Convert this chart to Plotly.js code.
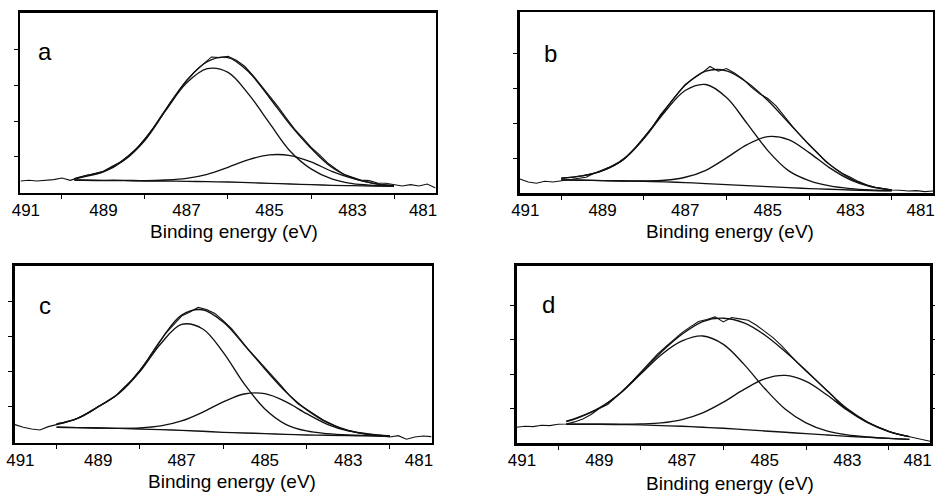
<!DOCTYPE html>
<html>
<head>
<meta charset="utf-8">
<script src="https://cdn.plot.ly/plotly-3.0.1.min.js"></script>
<style>
  html, body { margin: 0; padding: 0; background: #fff; }
  #chart { width: 935px; height: 497px; }
</style>
</head>
<body>
<div id="chart"></div>
<script>
// ---------------- data (binding energy in eV, intensity in arbitrary units) ----------------
const energy = [491.0, 490.8, 490.6, 490.4, 490.2, 490.0, 489.8, 489.6, 489.4, 489.2,
  489.0, 488.8, 488.6, 488.4, 488.2, 488.0, 487.8, 487.6, 487.4, 487.2,
  487.0, 486.8, 486.6, 486.4, 486.2, 486.0, 485.8, 485.6, 485.4, 485.2,
  485.0, 484.8, 484.6, 484.4, 484.2, 484.0, 483.8, 483.6, 483.4, 483.2,
  483.0, 482.8, 482.6, 482.4, 482.2, 482.0, 481.8, 481.6, 481.4, 481.2, 481.0];

const rawA = [0.327, 0.346, 0.327, 0.336, 0.364, 0.411, 0.346, 0.421, 0.486, 0.533,
  0.598, 0.729, 0.850, 1.028, 1.224, 1.514, 1.804, 2.131, 2.505, 2.822,
  3.131, 3.383, 3.589, 3.794, 3.776, 3.813, 3.701, 3.533, 3.280, 3.000,
  2.710, 2.411, 2.093, 1.785, 1.533, 1.271, 1.065, 0.832, 0.664, 0.505,
  0.430, 0.355, 0.336, 0.271, 0.262, 0.215, 0.187, 0.224, 0.187, 0.243, 0.131];
const rawB = [0.410, 0.324, 0.286, 0.343, 0.324, 0.362, 0.381, 0.419, 0.457, 0.571,
  0.667, 0.762, 0.895, 1.067, 1.314, 1.600, 1.886, 2.238, 2.533, 2.829,
  3.105, 3.276, 3.429, 3.619, 3.486, 3.562, 3.429, 3.257, 3.029, 2.838,
  2.705, 2.495, 2.190, 1.905, 1.638, 1.381, 1.162, 0.905, 0.733, 0.571,
  0.457, 0.333, 0.238, 0.171, 0.133, 0.095, 0.086, 0.067, 0.076, 0.048, 0.067];
const rawC = [0.475, 0.399, 0.351, 0.323, 0.418, 0.465, 0.532, 0.608, 0.703, 0.826,
  0.988, 1.121, 1.273, 1.519, 1.747, 2.032, 2.346, 2.697, 3.058, 3.314,
  3.571, 3.685, 3.818, 3.761, 3.647, 3.438, 3.210, 2.925, 2.621, 2.365,
  2.108, 1.842, 1.576, 1.292, 1.064, 0.912, 0.760, 0.608, 0.494, 0.380,
  0.304, 0.247, 0.199, 0.171, 0.152, 0.123, 0.161, 0.057, 0.123, 0.152, 0.133];
const rawD = [0.465, 0.494, 0.484, 0.523, 0.513, 0.552, 0.561, 0.620, 0.707, 0.833,
  1.007, 1.123, 1.336, 1.549, 1.801, 2.062, 2.304, 2.575, 2.788, 3.001,
  3.204, 3.369, 3.524, 3.582, 3.659, 3.514, 3.640, 3.601, 3.563, 3.417,
  3.243, 3.059, 2.836, 2.575, 2.323, 2.091, 1.868, 1.646, 1.433, 1.162,
  0.968, 0.803, 0.658, 0.542, 0.436, 0.348, 0.271, 0.213, 0.155, 0.106, 0.058];

// fitted curves: envelope, high-BE component, low-BE component, background
const fitEnergyA = [489.7, 489.5, 489.0, 488.5, 488.0, 487.5, 487.0, 486.5, 486.0,
  485.5, 485.0, 484.5, 484.0, 483.5, 483.0, 482.5, 482.0];
const envA   = [0.393, 0.458, 0.598, 0.935, 1.495, 2.327, 3.131, 3.664, 3.776, 3.374, 2.654, 1.897, 1.243, 0.710, 0.411, 0.262, 0.196];
const peak1A = [0.383, 0.439, 0.579, 0.907, 1.467, 2.299, 3.065, 3.467, 3.364, 2.748, 1.944, 1.159, 0.664, 0.383, 0.252, 0.206, 0.187];
const peak2A = [0.355, 0.355, 0.346, 0.346, 0.336, 0.355, 0.402, 0.514, 0.710, 0.925, 1.056, 1.037, 0.860, 0.598, 0.402, 0.262, 0.196];
const bgA    = [0.346, 0.346, 0.336, 0.336, 0.327, 0.327, 0.318, 0.308, 0.299, 0.280, 0.262, 0.243, 0.224, 0.206, 0.196, 0.187, 0.178];

const fitEnergyB = [490.0, 489.5, 489.0, 488.5, 488.0, 487.5, 487.0, 486.5, 486.0,
  485.5, 485.0, 484.5, 484.0, 483.5, 483.0, 482.5, 482.0];
const envB   = [0.429, 0.495, 0.648, 0.962, 1.571, 2.362, 3.086, 3.486, 3.495, 3.162, 2.648, 2.019, 1.390, 0.819, 0.419, 0.200, 0.095];
const peak1B = [0.429, 0.495, 0.648, 0.962, 1.562, 2.314, 2.933, 3.105, 2.733, 1.990, 1.219, 0.648, 0.362, 0.210, 0.133, 0.095, 0.076];
const peak2B = [0.381, 0.371, 0.362, 0.352, 0.352, 0.371, 0.457, 0.657, 1.010, 1.390, 1.619, 1.533, 1.162, 0.724, 0.381, 0.181, 0.095];
const bgB    = [0.381, 0.371, 0.362, 0.352, 0.343, 0.324, 0.305, 0.276, 0.248, 0.219, 0.190, 0.162, 0.133, 0.114, 0.095, 0.076, 0.067];

const fitEnergyC = [490.0, 489.5, 489.0, 488.5, 488.0, 487.5, 487.0, 486.5, 486.0,
  485.5, 485.0, 484.5, 484.0, 483.5, 483.0, 482.5, 482.0];
const envC   = [0.494, 0.655, 0.988, 1.377, 2.013, 2.887, 3.599, 3.751, 3.400, 2.754, 2.061, 1.415, 0.902, 0.532, 0.313, 0.209, 0.152];
const peak1C = [0.494, 0.655, 0.988, 1.368, 1.985, 2.783, 3.333, 3.210, 2.536, 1.643, 0.921, 0.484, 0.294, 0.218, 0.180, 0.161, 0.142];
const peak2C = [0.399, 0.389, 0.380, 0.370, 0.380, 0.437, 0.579, 0.826, 1.121, 1.349, 1.358, 1.130, 0.788, 0.484, 0.294, 0.199, 0.152];
const bgC    = [0.399, 0.389, 0.380, 0.370, 0.351, 0.332, 0.313, 0.285, 0.256, 0.237, 0.218, 0.199, 0.180, 0.171, 0.162, 0.152, 0.142];

const fitEnergyD = [489.8, 489.5, 489.0, 488.5, 488.0, 487.5, 487.0, 486.5, 486.0,
  485.5, 485.0, 484.5, 484.0, 483.5, 483.0, 482.5, 482.0, 481.5];
const envD   = [0.639, 0.755, 1.026, 1.452, 2.033, 2.643, 3.156, 3.524, 3.620, 3.485, 3.136, 2.652, 2.110, 1.530, 0.997, 0.610, 0.348, 0.194];
const peak1D = [0.629, 0.745, 1.016, 1.442, 2.004, 2.565, 2.962, 3.107, 2.865, 2.285, 1.588, 0.987, 0.591, 0.358, 0.242, 0.184, 0.145, 0.116];
const peak2D = [0.552, 0.552, 0.552, 0.552, 0.561, 0.591, 0.687, 0.881, 1.191, 1.559, 1.868, 1.965, 1.791, 1.404, 0.958, 0.591, 0.339, 0.194];
const bgD    = [0.552, 0.552, 0.552, 0.542, 0.532, 0.513, 0.494, 0.465, 0.436, 0.397, 0.358, 0.319, 0.281, 0.242, 0.203, 0.174, 0.145, 0.116];

// axis ticks and labels
const tickValues = [491, 489, 487, 485, 483, 481];
const tickLabels = ['491', '489', '487', '485', '483', '481'];
const minorTicks = [490, 488, 486, 484, 482];
const panelLabels = ['a', 'b', 'c', 'd'];
const xTitle = 'Binding energy (eV)';

// ---------------- figure ----------------
const FONT = 'Arial, "Liberation Sans", sans-serif';
const INK = '#111';

const panels = [
  {raw: rawA, fe: fitEnergyA, env: envA, p1: peak1A, p2: peak2A, bg: bgA},
  {raw: rawB, fe: fitEnergyB, env: envB, p1: peak1B, p2: peak2B, bg: bgB},
  {raw: rawC, fe: fitEnergyC, env: envC, p1: peak1C, p2: peak2C, bg: bgC},
  {raw: rawD, fe: fitEnergyD, env: envD, p1: peak1D, p2: peak2D, bg: bgD}
];

const xDomains = [[0.0219, 0.4658], [0.5561, 0.9979], [0.0160, 0.4615], [0.5526, 0.9947]];
const yDomains = [[0.6123, 0.9744], [0.6111, 0.9755], [0.1093, 0.4648], [0.1080, 0.4654]];
const yRanges  = [[0, 5.03], [0, 5.17], [-0.04, 5.0], [0, 5.14]];
// end labels sit slightly inside the frame, as in the original figure
const labelSlots = tickValues.map(v => v === 491 ? v - 0.13 : (v === 481 ? v + 0.3 : v));

const traces = [];
panels.forEach((p, i) => {
  const sfx = i === 0 ? '' : String(i + 1);
  const xa = 'x' + sfx, ya = 'y' + sfx;
  traces.push({x: energy, y: p.raw, xaxis: xa, yaxis: ya, mode: 'lines',
    line: {color: INK, width: 1.1}, hoverinfo: 'skip'});
  [p.env, p.p1, p.p2, p.bg].forEach(series => {
    traces.push({x: p.fe, y: series, xaxis: xa, yaxis: ya, mode: 'lines',
      line: {color: INK, width: 1.35, shape: 'spline', smoothing: 1}, hoverinfo: 'skip'});
  });
});

const layout = {
  width: 935, height: 497,
  margin: {l: 0, r: 0, t: 0, b: 0},
  paper_bgcolor: '#fff', plot_bgcolor: '#fff',
  showlegend: false,
  font: {family: FONT, color: '#000'},
  annotations: []
};

const labelPos = [[45, 51.5], [550, 53], [45, 305.5], [548, 304]];
const titlePos = [[234, 231], [730, 231], [232, 481], [730, 483]];

panels.forEach((p, i) => {
  const sfx = i === 0 ? '' : String(i + 1);
  layout['xaxis' + sfx] = {
    domain: xDomains[i], anchor: 'y' + sfx,
    range: [491, 481], tickmode: 'array', tickvals: labelSlots, ticktext: tickLabels,
    ticks: 'outside', ticklen: 0, tickcolor: 'rgba(0,0,0,0)',
    minor: {tickmode: 'array', tickvals: minorTicks, ticks: 'outside', ticklen: 4,
            tickwidth: 1, tickcolor: '#000', showgrid: false},
    showline: true, linewidth: 2.5, linecolor: '#000', mirror: true,
    showgrid: false, zeroline: false,
    tickfont: {family: FONT, size: 17, color: '#000'}
  };
  layout['yaxis' + sfx] = {
    domain: yDomains[i], anchor: 'x' + sfx,
    range: yRanges[i], tickmode: 'array', tickvals: [1, 2, 3, 4],
    ticks: 'outside', ticklen: 4, tickwidth: 1, tickcolor: '#000',
    showticklabels: false,
    showline: true, linewidth: 2.5, linecolor: '#000', mirror: i === 3 ? 'ticks' : true,
    showgrid: false, zeroline: false
  };
  // x-axis title
  layout.annotations.push({
    text: xTitle, xref: 'paper', yref: 'paper',
    x: titlePos[i][0] / 935, y: 1 - titlePos[i][1] / 497,
    xanchor: 'center', yanchor: 'middle', showarrow: false,
    font: {family: FONT, size: 19, color: '#000'}
  });
  // panel letter
  layout.annotations.push({
    text: panelLabels[i], xref: 'paper', yref: 'paper',
    x: labelPos[i][0] / 935, y: 1 - labelPos[i][1] / 497,
    xanchor: 'center', yanchor: 'middle', showarrow: false,
    font: {family: FONT, size: 24, color: '#000'}
  });
});

Plotly.newPlot('chart', traces, layout, {staticPlot: true, displayModeBar: false});
</script>
</body>
</html>
